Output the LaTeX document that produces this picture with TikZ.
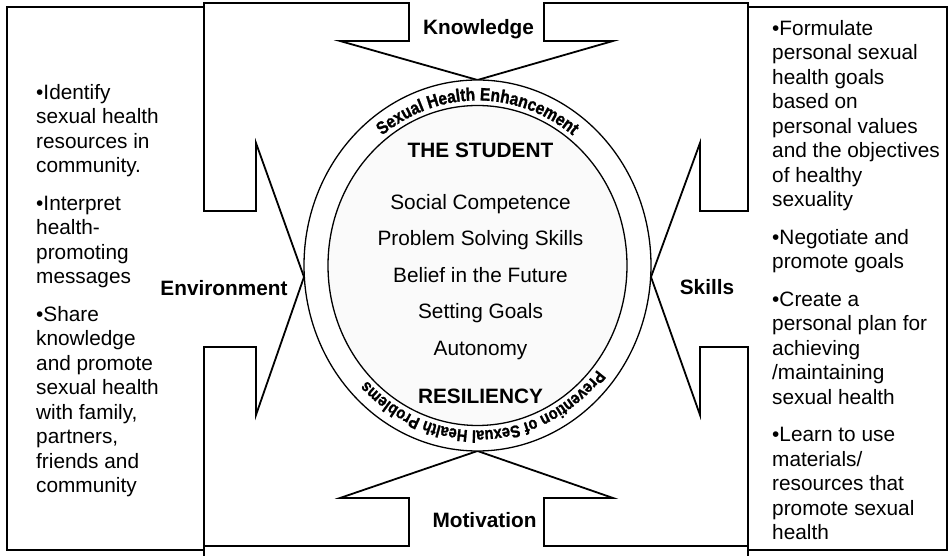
\documentclass[tikz,border=0pt]{standalone}
\usepackage{fontspec}
\setmainfont{Liberation Sans}
\newfontfamily\ringfont[FakeStretch = 0.86, FakeBold = 1.2]{Liberation Sans}
\usetikzlibrary{decorations.text}
\begin{document}
\begin{tikzpicture}[x = 1pt, y = 1pt,
        bodytext/.style = {font = \fontsize{20.8}{24.5}\selectfont, inner sep = 0pt, align = left, anchor = north west},
        headtext/.style = {font = \fontsize{20.8}{24.5}\selectfont\bfseries, inner sep = 0pt, anchor = base},
        frame/.style = {line width = 1.8, line join = miter}]
        \useasboundingbox (0, 0) rectangle (951, 556);
        \draw[frame] (204, 549) -- (7, 549) -- (7, 6) -- (204, 6);
        \draw[frame] (748, 549) -- (947, 549) -- (947, 6) -- (748, 6);
        \draw[frame] (204, 553) -- (409, 553) -- (409, 515) -- (340, 515) -- (477.5, 476) -- (613, 515) -- (544, 515) -- (544, 553)
            -- (748, 553) -- (748, 345) -- (700, 345) -- (700, 413) -- (651, 279) -- (700, 141) -- (700, 209) -- (748, 209)
            -- (748, 10) -- (544, 10) -- (544, 58) -- (613, 58) -- (477.5, 105) -- (340, 58) -- (409, 58) -- (409, 10)
            -- (204, 10) -- (204, 209) -- (256, 209) -- (256, 141) -- (304, 279) -- (256, 413) -- (256, 345) -- (204, 345) -- cycle;
        \draw[frame] (204, 10) -- (204, 0);
        \draw[frame] (748, 10) -- (748, 0);
        \filldraw[fill = white, line width = 1.3] (477.5, 290.5) ellipse[x radius = 173.5, y radius = 185.5];
        \filldraw[fill = gray!4, line width = 1.3] (477.5, 290.5) ellipse[x radius = 149.5, y radius = 160];
        \path[decorate, decoration = {text along path, text align = center,
            text = {|\ringfont\bfseries\fontsize{18}{20}\selectfont|Sexual Health Enhancement}}]
            (477.5, 290.5) ++(160:154.5 and 165) arc[start angle = 160, end angle = 20, x radius = 154.5, y radius = 165];
        \path[decorate, decoration = {text along path, text align = center,
            text = {|\ringfont\bfseries\fontsize{17}{20}\selectfont|Prevention of Sexual Health Problems}}]
            (477.5, 290.5) ++(-7.5:154.5 and 165) arc[start angle = -7.5, end angle = -167.5, x radius = 154.5, y radius = 165];
        \node[headtext] (knowledge) at (478.5, 521) {Knowledge};
        \node[headtext] (motivation) at (484.5, 28) {Motivation};
        \node[headtext] (environment) at (224, 260) {Environment};
        \node[headtext] (skills) at (707, 261) {Skills};
        \node[bodytext, align = center, anchor = north] (student) at (480.5, 413.6) {\textbf{THE STUDENT}\\[27.5pt]
            Social Competence\\[12pt] Problem Solving Skills\\[12pt] Belief in the Future\\[12pt]
            Setting Goals\\[12pt] Autonomy\\[23.5pt] \textbf{RESILIENCY}};
        \node[bodytext] (envlist) at (36, 471.9) {•Identify\\ sexual health\\ resources in\\ community.\\[13pt]
            •Interpret\\ health-\\ promoting\\ messages\\[13pt]
            •Share\\ knowledge\\ and promote\\ sexual health\\ with family,\\ partners,\\ friends and\\ community};
        \node[bodytext] (skilllist) at (772, 536.2) {•Formulate\\ personal sexual\\ health goals\\ based on\\ personal values\\ and the objectives\\ of healthy\\ sexuality\\[13pt]
            •Negotiate and\\ promote goals\\[13pt]
            •Create a\\ personal plan for\\ achieving\\ /maintaining\\ sexual health\\[13pt]
            •Learn to use\\ materials/\\ resources that\\ promote sexual\\ health};
    \end{tikzpicture}
\end{document}
